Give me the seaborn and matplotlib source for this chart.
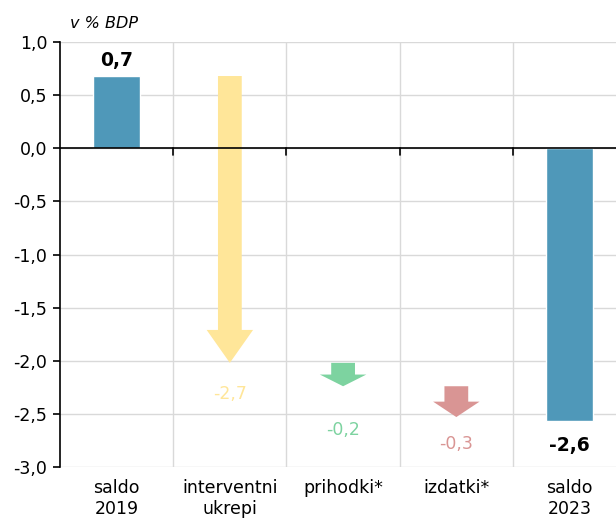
import numpy as np
import pandas as pd
import matplotlib
matplotlib.use('Agg')
import matplotlib.pyplot as plt
import seaborn as sns

# podatki
kategorije = ['saldo\n2019', 'interventni\nukrepi', 'prihodki*', 'izdatki*', 'saldo\n2023']
saldo = [0.68, np.nan, np.nan, np.nan, -2.57]
saldo_oznake = ['0,7', '', '', '', '-2,6']
spremembe = [np.nan, -2.70, -0.22, -0.29, np.nan]
spremembe_oznake = ['', '-2,7', '-0,2', '-0,3', '']
yticks = [1.0, 0.5, 0.0, -0.5, -1.0, -1.5, -2.0, -2.5, -3.0]

barva_salda = '#4f98b9'
barve_puscic = ['#ffe699', '#7dd3a0', '#d99594']

sns.set_style('white')
plt.rcParams['font.family'] = ['DejaVu Sans']
plt.rcParams['text.color'] = 'black'
plt.rcParams['xtick.color'] = 'black'
plt.rcParams['ytick.color'] = 'black'

fig = plt.figure(figsize=(6.16, 5.22), dpi=100)
ax = fig.add_axes([0.0974, 0.1054, 0.9026, 0.8141])

df = pd.DataFrame({'kat': kategorije, 'saldo': saldo})
sns.barplot(data=df, x='kat', y='saldo', hue='kat',
            palette={k: barva_salda for k in kategorije}, saturation=1,
            width=0.41, legend=False, ax=ax, zorder=3)

# puscice (kumulativno od salda 2019)
zacetek = saldo[0]
poz_oznak = [None, -2.315, -2.655, -2.785, None]
j = 0
for i, d in enumerate(spremembe):
    if np.isnan(d):
        continue
    hl = min(0.31, abs(d) / 2)
    ax.arrow(i, zacetek, 0, d, width=0.21, head_width=0.41, head_length=hl,
             length_includes_head=True, color=barve_puscic[j], lw=0, zorder=3)
    ax.text(i, poz_oznak[i], spremembe_oznake[i], ha='center', va='center',
            fontsize=12.5, color=barve_puscic[j])
    zacetek += d
    j += 1

# oznake stolpcev
for i, (v, o) in enumerate(zip(saldo, saldo_oznake)):
    if np.isnan(v):
        continue
    y = v + 0.15 if v > 0 else v - 0.23
    ax.text(i, y, o, ha='center', va='center', fontsize=13.5, fontweight='bold')

ax.set_xlim(-0.5, 4.41)
ax.set_ylim(-3.0, 1.0)
ax.set_yticks(yticks)
ax.set_yticklabels([f'{t:.1f}'.replace('.', ',') for t in yticks], fontsize=12.5)
ax.set_xticks(range(len(kategorije)))
ax.set_xticklabels(kategorije, fontsize=12.5, linespacing=1.2)
ax.tick_params(axis='x', length=0, pad=9)
ax.tick_params(axis='y', length=5, width=1.2, direction='out', pad=4, left=True)
ax.set_xlabel('')
ax.set_ylabel('')

# mreza
for x in np.arange(0.5, 4.5, 1.0):
    ax.axvline(x, color='#d9d9d9', lw=1, zorder=1)
for t in yticks:
    ax.axhline(t, color='#d9d9d9', lw=1, zorder=1)
ax.axhline(0, color='black', lw=1.2, zorder=4)
for x in np.arange(0.5, 4.5, 1.0):
    ax.plot([x, x], [0, -0.06], color='black', lw=1.2, zorder=4, clip_on=False)

for s in ['top', 'right', 'bottom']:
    ax.spines[s].set_visible(False)
ax.spines['left'].set_color('black')
ax.spines['left'].set_linewidth(1.2)
ax.spines['left'].set_zorder(5)

fig.text(0.113, 0.955, 'v % BDP', fontsize=11.5, fontstyle='italic', ha='left', va='center')

fig.savefig('out.png', dpi=100)
